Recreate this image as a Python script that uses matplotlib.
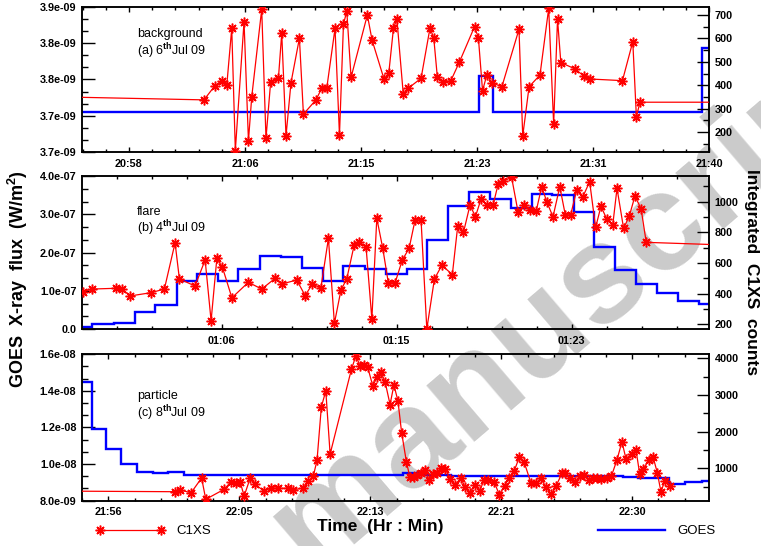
import matplotlib
matplotlib.use('Agg')
import matplotlib.pyplot as plt
from matplotlib.ticker import AutoMinorLocator

plt.rcParams['font.family'] = ['Liberation Sans', 'DejaVu Sans']
plt.rcParams['font.weight'] = 'bold'
plt.rcParams['mathtext.fontset'] = 'custom'
plt.rcParams['mathtext.rm'] = 'Liberation Sans'
plt.rcParams['mathtext.bf'] = 'Liberation Sans:bold'

# ---- (a) background, 6 Jul 09 : time in minutes of day ----
bg_t = [1252.0, 1263.43, 1264.23, 1264.76, 1265.08, 1265.44, 1265.70, 1266.33, 1266.65, 1266.89,
        1267.61, 1267.92, 1268.26, 1268.82, 1269.06, 1269.37, 1269.73, 1270.34, 1270.63, 1271.54,
        1271.96, 1272.32, 1272.92, 1273.24, 1273.53, 1273.77, 1274.08, 1275.26, 1275.60, 1276.47,
        1276.81, 1277.15, 1277.40, 1277.86, 1278.23, 1279.15, 1279.80, 1280.07, 1280.33, 1280.72,
        1281.30, 1281.93, 1283.02, 1283.30, 1283.60, 1283.91, 1284.27, 1285.00, 1286.24, 1286.51,
        1286.97, 1287.76, 1288.39, 1288.75, 1289.03, 1289.27, 1290.30, 1290.92, 1291.38, 1293.73,
        1294.48, 1294.74, 1295.00, 1304.0]
bg_c = [352, 338, 399, 420, 400, 643, 122, 671, 164, 352,
        724, 174, 416, 430, 622, 184, 411, 601, 277, 338,
        388, 388, 643, 188, 660, 717, 434, 700, 593, 426,
        451, 643, 682, 363, 388, 430, 646, 601, 434, 416,
        419, 500, 650, 603, 377, 444, 411, 394, 639, 184,
        394, 444, 728, 235, 682, 497, 470, 440, 427, 420,
        586, 266, 328, 328]
bg_goes_t = [1250.0, 1283.34, 1284.39, 1299.51, 1305.0]
bg_goes = [3.7546e-9, 3.8048e-9, 3.7546e-9, 3.844e-9]
bg_ticks = [1258.0, 1266.4, 1274.8, 1283.2, 1291.6, 1300.0]
bg_labels = ['20:58', '21:06', '21:15', '21:23', '21:31', '21:40']
bg_yticks = [3.70e-9, 3.75e-9, 3.80e-9, 3.85e-9, 3.90e-9]
bg_ylabels = ['3.7e-09', '3.7e-09', '3.8e-09', '3.8e-09', '3.9e-09']
bg_cticks = [200, 300, 400, 500, 600, 700]

# ---- (b) flare, 4 Jul 09 : minutes after 00:00 ----
fl_t = [59.78, 60.19, 61.37, 61.67, 62.05, 63.05, 63.71, 64.23, 64.44, 65.20,
        65.69, 65.98, 66.26, 66.53, 66.99, 67.79, 68.44, 69.09, 69.41, 70.14,
        70.55, 70.90, 71.31, 71.68, 71.97, 72.29, 72.57, 72.93, 73.18, 73.51,
        73.79, 74.03, 74.32, 74.59, 74.92, 75.27, 75.60, 75.89, 76.18, 76.46,
        76.83, 77.19, 77.70, 77.96, 78.24, 78.56, 78.82, 79.09, 79.37, 79.68,
        79.93, 80.18, 80.58, 80.89, 81.18, 81.47, 81.77, 82.04, 82.30, 82.59,
        82.92, 83.19, 83.45, 83.74, 84.03, 84.37, 84.66, 84.92, 85.20, 85.49,
        85.70, 86.02, 86.30, 86.57, 86.87, 87.12, 92.0]
fl_c = [413, 430, 435, 428, 385, 406, 430, 732, 496, 450,
        620, 223, 631, 572, 373, 474, 430, 500, 463, 489,
        387, 463, 435, 761, 206, 424, 496, 717, 739, 702,
        234, 892, 696, 471, 471, 620, 696, 881, 881, 169,
        496, 585, 525, 840, 800, 979, 902, 1016, 979, 979,
        1118, 1135, 1159, 935, 979, 944, 937, 1098, 996, 902,
        1098, 913, 915, 1076, 1029, 1131, 832, 970, 888, 845,
        1088, 826, 908, 1037, 954, 735, 713]
fl_goes_t = [59.0, 60.19, 61.24, 62.26, 63.26, 64.31, 65.29, 66.33, 67.31, 68.36,
             69.37, 70.39, 71.41, 72.41, 73.46, 74.48, 75.49, 76.49, 77.51, 78.51,
             79.53, 80.54, 81.56, 82.53, 83.61, 84.60, 85.60, 86.61, 87.63, 88.68,
             89.68, 91.0]
fl_goes = [6.0e-9, 1.23e-8, 1.65e-8, 4.52e-8, 6.27e-8, 1.255e-7, 1.43e-7, 1.255e-7, 1.56e-7, 1.908e-7,
           1.89e-7, 1.587e-7, 1.255e-7, 1.655e-7, 1.568e-7, 1.438e-7, 1.56e-7, 2.326e-7, 3.215e-7, 3.589e-7,
           3.398e-7, 3.155e-7, 3.529e-7, 3.503e-7, 3.05e-7, 2.151e-7, 1.542e-7, 1.176e-7, 9.49e-8, 7.4e-8,
           6.54e-8]
fl_ticks = [66.5, 75.0, 83.5]
fl_labels = ['01:06', '01:15', '01:23']
fl_yticks = [0.0, 1e-7, 2e-7, 3e-7, 4e-7]
fl_ylabels = ['0.0', '1.0e-07', '2.0e-07', '3.0e-07', '4.0e-07']
fl_cticks = [200, 400, 600, 800, 1000]

# ---- (c) particle, 8 Jul 09 ----
pa_t = [1312.0, 1320.83, 1321.15, 1321.87, 1322.55, 1322.82, 1324.01, 1324.46, 1324.79, 1325.05,
        1325.31, 1325.70, 1326.02, 1326.57, 1327.06, 1327.51, 1328.18, 1328.51, 1329.13, 1329.48,
        1329.80, 1330.04, 1330.32, 1330.61, 1330.89, 1332.27, 1332.57, 1332.83, 1333.07, 1333.33,
        1333.66, 1333.94, 1334.20, 1334.46, 1334.78, 1335.03, 1335.29, 1335.53, 1335.84, 1336.06,
        1336.32, 1336.53, 1336.81, 1337.05, 1337.31, 1337.59, 1337.83, 1338.09, 1338.37, 1338.67,
        1338.97, 1339.37, 1339.65, 1339.94, 1340.30, 1340.59, 1340.88, 1341.14, 1341.53, 1341.87,
        1342.21, 1342.53, 1342.83, 1343.18, 1343.48, 1343.93, 1344.25, 1344.55, 1344.90, 1345.23,
        1345.55, 1345.94, 1346.16, 1346.46, 1346.78, 1347.08, 1347.35, 1347.67, 1347.97, 1348.23,
        1348.50, 1348.84, 1349.14, 1349.51, 1349.83, 1350.09, 1350.46, 1350.74, 1350.98, 1351.22,
        1351.57, 1351.85, 1352.12, 1352.36, 1352.62, 1352.95]
pa_c = [385, 365, 411, 338, 738, 158, 430, 637, 602, 637,
        248, 730, 566, 392, 457, 457, 457, 419, 466, 648,
        793, 1220, 2673, 3114, 1392, 3695, 4076, 3790, 3809, 3755,
        3245, 3490, 3618, 3354, 2741, 3272, 2842, 1978, 1182, 774,
        774, 820, 874, 956, 684, 855, 874, 1002, 983, 719,
        547, 730, 501, 329, 561, 378, 684, 684, 637, 283,
        526, 752, 924, 1319, 1174, 594, 594, 730, 501, 289,
        520, 866, 883, 752, 624, 784, 820, 697, 738, 738,
        711, 730, 784, 1237, 1727, 1261, 1387, 1501, 853, 992,
        1229, 1310, 888, 365, 670, 512]
pa_goes_t = [1313.0, 1315.42, 1316.35, 1317.30, 1318.38, 1319.38, 1320.39, 1321.43, 1335.59,
             1336.60, 1338.74, 1349.87, 1350.89, 1352.88, 1353.92, 1355.03, 1357.0]
pa_goes = [1.450e-8, 1.191e-8, 1.082e-8, 9.98e-9, 9.54e-9, 9.49e-9, 9.58e-9, 9.38e-9,
           9.49e-9, 9.40e-9, 9.35e-9, 9.29e-9, 9.21e-9, 8.90e-9, 9.00e-9, 9.07e-9]
pa_ticks = [1316.5, 1325.0, 1333.5, 1342.0, 1350.5]
pa_labels = ['21:56', '22:05', '22:13', '22:21', '22:30']
pa_yticks = [8e-9, 1.0e-8, 1.2e-8, 1.4e-8, 1.6e-8]
pa_ylabels = ['8.0e-09', '1.0e-08', '1.2e-08', '1.4e-08', '1.6e-08']
pa_cticks = [1000, 2000, 3000, 4000]

RED = '#ff0000'
BLUE = '#0000ff'

fig = plt.figure(figsize=(7.61, 5.46), dpi=100)
fig.patch.set_facecolor('white')

# watermark, drawn underneath the panels
fig.text(0.41, -0.05, 'manuscript', rotation=40.5, rotation_mode='anchor',
         ha='left', va='baseline', fontsize=101, color='#cbcbcb', weight='bold', zorder=-1)


def panel(rect, t, c, gt, gv, xlim, ylim, clim, xticks, xlabels, yticks, ylabels, cticks,
          cminor, title, date):
    ax = fig.add_axes(rect)
    ax.set_facecolor('none')
    ax.stairs(gv, gt, baseline=None, color=BLUE, lw=1.7, zorder=2)
    ax.set_xlim(xlim)
    ax.set_ylim(ylim)
    ax.set_xticks(xticks, xlabels)
    ax.set_yticks(yticks, ylabels)
    ax.xaxis.set_minor_locator(AutoMinorLocator(5))
    ax.yaxis.set_minor_locator(AutoMinorLocator(3))
    ax.tick_params(axis='y', which='major', direction='in', length=9, width=1, labelsize=7.8, pad=4)
    ax.tick_params(axis='y', which='minor', direction='in', length=4.5, width=1)
    ax.tick_params(axis='x', which='major', direction='in', length=3.5, width=1, top=True,
                   labelsize=7.8, pad=5)
    ax.tick_params(axis='x', which='minor', direction='in', length=2, width=1, top=True)

    ax2 = ax.twinx()
    line, = ax2.plot(t, c, color=RED, lw=0.9, marker=(8, 2, 0), ms=7, mew=1.1, zorder=3)
    ax2.set_ylim(clim)
    ax2.set_yticks(cticks)
    ax2.yaxis.set_minor_locator(AutoMinorLocator(cminor))
    ax2.tick_params(axis='y', which='major', direction='in', length=9, width=1, labelsize=7.8, pad=4)
    ax2.tick_params(axis='y', which='minor', direction='in', length=4.5, width=1)
    for a in (ax, ax2):
        for s in a.spines.values():
            s.set_linewidth(1.1)

    ax.text(0.0877, title[1], title[0], transform=ax.transAxes, ha='left', va='center',
            fontsize=9, weight='normal')
    ax.text(0.0877, date[1], date[0], transform=ax.transAxes, ha='left', va='center',
            fontsize=9, weight='normal')
    return line


panel([0.1078, 0.7222, 0.8239, 0.2645], bg_t, bg_c, bg_goes_t, bg_goes,
      (1254.6, 1300.0), (3.70e-9, 3.90e-9), (117, 733), bg_ticks, bg_labels,
      bg_yticks, bg_ylabels, bg_cticks, 2,
      ('background', 0.813), (r'(a) 6$^{\rm th}$Jul 09', 0.693))
panel([0.1078, 0.3974, 0.8239, 0.2802], fl_t, fl_c, fl_goes_t, fl_goes,
      (59.71, 90.17), (0.0, 4e-7), (169, 1168), fl_ticks, fl_labels,
      fl_yticks, fl_ylabels, fl_cticks, 2,
      ('flare', 0.767), (r'(b) 4$^{\rm th}$Jul 09', 0.658))
red = panel([0.1078, 0.0833, 0.8239, 0.2678], pa_t, pa_c, pa_goes_t, pa_goes,
            (1314.79, 1355.48), (8e-9, 1.6e-8), (125, 4109), pa_ticks, pa_labels,
            pa_yticks, pa_ylabels, pa_cticks, 2,
            ('particle', 0.715), (r'(c) 8$^{\rm th}$Jul 09', 0.60))

fig.text(18 / 761, 1 - 279 / 546, r'GOES  X-ray  flux  (W/m$^{\bf 2}$)', rotation=90,
         ha='center', va='center', fontsize=13)
fig.text(752 / 761, 1 - 272 / 546, 'Integrated  C1XS  counts', rotation=270,
         ha='center', va='center', fontsize=12.5)
fig.text(380 / 761, 1 - 527 / 546, 'Time  (Hr : Min)', ha='center', va='center', fontsize=12.5)

goes_handle = plt.Line2D([], [], color=BLUE, lw=1.7)
fig.legend([red], ['C1XS'], loc='center left', bbox_to_anchor=(96 / 761, 1 - 531 / 546),
           frameon=False, borderpad=0, borderaxespad=0, handlelength=5.2, handletextpad=0.9,
           numpoints=2, prop={'size': 9.5, 'weight': 'normal'})
fig.legend([goes_handle], ['GOES'], loc='center left', bbox_to_anchor=(598 / 761, 1 - 531 / 546),
           frameon=False, borderpad=0, borderaxespad=0, handlelength=5.1, handletextpad=0.9,
           prop={'size': 9.5, 'weight': 'normal'})

fig.savefig('out.png', dpi=100)
